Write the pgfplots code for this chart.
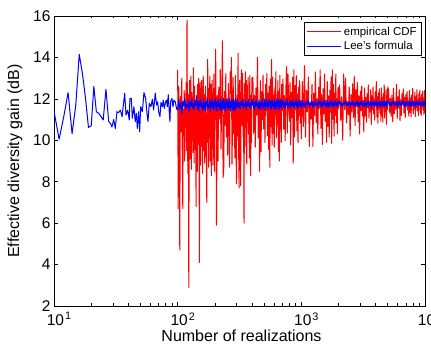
\documentclass[border=0pt]{standalone}
\usepackage{pgfplots}
\pgfplotsset{compat=1.18}
\usepackage{fontspec}
\setmainfont{Liberation Sans}
\begin{document}
\begin{tikzpicture}
\begin{axis}[
  scale only axis, width=371pt, height=290pt,
  xmode=log, log basis x=10, xmin=10, xmax=10000, ymin=2, ymax=16,
  ytick={2,4,6,8,10,12,14,16},
  xtick={10,100,1000,10000},
  xticklabels={10\rlap{\kern1pt\textsuperscript{1}},10\rlap{\kern1pt\textsuperscript{2}},10\rlap{\kern1pt\textsuperscript{3}},10\rlap{\kern1pt\textsuperscript{4}}},
  minor xtick={20,30,40,50,60,70,80,90,200,300,400,500,600,700,800,900,2000,3000,4000,5000,6000,7000,8000,9000},
  /pgf/number format/assume math mode=true,
  tick label style={font=\fontsize{15.5}{18}\selectfont, black},
  xticklabel style={yshift=-3pt, xshift=1.5pt},
  axis line style={line width=0.8pt, black},
  every tick/.style={black, line width=0.6pt},
  major tick length=4pt, minor tick length=2.5pt,
  xlabel={Number of realizations},
  ylabel={Effective diversity gain (dB)},
  every axis y label/.style={at={(axis description cs:-0.105,0.5)}, rotate=90, anchor=center, font=\fontsize{16}{19}\selectfont},
  every axis x label/.style={at={(axis description cs:0.5,0)}, anchor=center, yshift=-30pt, xshift=2pt, font=\fontsize{16}{19}\selectfont},
  legend style={at={(axis description cs:1,1)}, anchor=north east, xshift=-3pt, yshift=-6pt,
    font=\fontsize{11.5}{13}\selectfont, draw=black, line width=0.6pt, inner xsep=3pt, inner ysep=2.5pt,
    row sep=0.5pt, cells={anchor=west}},
  legend image code/.code={\draw[#1] (0pt,0pt) -- (34pt,0pt);},
]
\addplot[red, line width=1pt, line join=round] coordinates {
(100,13.4)(101,6.7)(102,12.6)(103,9.8)(104,4.7)(105,12.1)(106,10.4)(107,11.8)(108,13.0)(109,9.2)
(110,6.7)(111,11.5)(112,10.2)(113,12.4)(114,9.0)(115,11.9)(116,10.6)(117,12.8)(118,9.5)(119,15.8)
(120,10.1)(121,8.4)(122,12.2)(123,2.9)(124,11.3)(125,12.9)(126,9.1)(127,11.0)(128,13.1)(129,8.6)
(130,12.3)(131,10.0)(132,11.6)(133,9.4)(134,13.5)(135,10.8)(136,8.9)(137,12.6)(138,10.3)(139,11.9)
(140,9.6)(141,6.8)(142,12.0)(143,10.9)(144,8.5)(145,12.7)(146,9.8)(147,11.4)(148,13.0)(149,9.3)
(150,4.1)(151,11.2)(152,12.8)(153,8.8)(154,11.7)(155,10.2)(156,12.9)(157,9.7)(158,11.1)(159,8.4)
(160,12.4)(161,13.1)(162,9.5)(163,10.7)(164,12.2)(165,8.9)(166,11.8)(167,10.4)(168,12.6)(169,9.2)
(170,11.3)(171,8.6)(172,7.0)(173,12.1)(174,10.5)(175,13.9)(176,9.9)(177,11.6)(178,8.7)(179,12.5)
(180,10.1)(181,11.9)(182,13.1)(183,9.0)(184,11.2)(185,10.6)(186,12.7)(187,8.3)(188,11.5)(189,9.6)
(190,12.9)(191,10.3)(192,11.8)(193,8.8)(194,12.3)(195,9.9)(196,13.2)(197,10.7)(198,8.5)(199,12.0)
(200,11.0)
(203,14.4)(206,5.9)(209,12.17)(212,8.99)(215,12.55)(218,11.02)(221,13.41)(224,9.57)(227,11.79)(230,14.8)
(233,8.2)(236,8.7)(239,12.36)(242,10.73)(245,13.22)(248,10.15)(251,11.98)(254,9.28)(257,12.74)(260,11.31)
(263,8.7)(266,13.31)(269,12.27)(272,14.0)(275,8.85)(278,10.88)(281,13.03)(284,10.3)(287,11.89)(290,9.14)
(293,13.12)(296,9.86)(299,7.9)(302,12.17)(305,10.2)(308,14.2)(311,9.6)(314,7.7)(317,12.9)(320,10.44)
(323,7.8)(326,12.93)(329,13.4)(332,10.73)(335,13.22)(338,10.15)(341,11.98)(344,6.0)(347,12.74)(350,11.31)
(353,13.31)(356,9.72)(359,12.9)(362,8.85)(365,12.65)(368,10.88)(371,13.03)(374,10.3)(377,11.89)(380,9.14)
(383,13.12)(386,9.86)(389,8.3)(392,12.17)(395,9.9)(398,13.0)
(406,13.05)(412,10.33)(418,12.18)(424,9.67)(430,12.53)(436,11.21)(442,14.0)(448,10.11)(454,11.83)(460,8.5)
(466,12.88)(472,9.45)(478,12.35)(484,10.99)(490,13.14)(496,10.55)(502,12.0)(508,9.89)(514,12.7)(520,11.43)
(526,13.23)(532,10.22)(538,12.26)(544,9.56)(550,12.61)(556,8.7)(562,12.96)(568,10.66)(574,13.9)(580,9.78)
(586,13.05)(592,10.33)(598,12.18)(604,9.67)(610,12.53)(616,11.21)(622,13.31)(628,10.11)(634,11.83)(640,10.77)
(646,12.88)(652,9.45)(658,12.35)(664,9.0)(670,13.14)(676,10.55)(682,12.0)(688,9.89)(694,12.7)(700,11.43)
(710,12.96)(720,10.54)(730,12.16)(740,9.97)(750,12.48)(760,13.55)(770,10.35)(780,13.2)(790,11.84)(800,10.92)
(810,12.8)(820,9.78)(830,12.32)(840,11.11)(850,13.04)(860,8.9)(870,13.4)(880,10.16)(890,12.64)(900,11.49)
(910,13.12)(920,10.45)(930,12.24)(940,9.88)(950,12.56)(960,11.21)(970,12.88)(980,10.83)(990,11.92)(1000,10.07)
(1020,12.84)(1040,10.67)(1060,13.6)(1080,10.15)(1100,12.42)(1120,11.37)(1140,13.05)(1160,9.7)(1180,11.86)(1200,11.02)
(1220,12.7)(1240,9.7)(1260,12.28)(1280,11.2)(1300,13.3)(1320,10.85)(1340,12.0)(1360,10.32)(1380,12.56)(1400,11.55)
(1420,13.4)(1440,10.58)(1460,12.21)(1480,9.8)(1500,12.49)(1520,11.28)(1540,13.2)(1560,10.93)(1580,11.93)(1600,9.9)
(1620,12.84)(1640,10.67)(1660,12.14)(1680,10.15)(1700,12.42)(1720,11.37)(1740,13.05)(1760,9.85)(1780,13.4)(1800,11.02)
(1820,12.7)(1840,10.2)(1860,12.28)(1880,11.2)(1900,13.2)(1920,10.85)(1940,12.0)(1960,10.32)(1980,12.56)(2000,11.55)
(2040,12.67)(2080,10.97)(2120,12.1)(2160,10.0)(2200,13.2)(2240,11.49)(2280,13.0)(2320,10.84)(2360,11.87)(2400,11.23)
(2440,12.56)(2480,10.2)(2520,12.21)(2560,11.36)(2600,12.73)(2640,11.1)(2680,13.07)(2720,10.71)(2760,12.44)(2800,11.62)
(2840,12.79)(2880,10.9)(2920,12.15)(2960,10.3)(3000,12.38)(3040,11.43)(3080,12.61)(3120,11.17)(3160,11.92)(3200,10.4)
(3240,12.53)(3280,11.17)(3320,12.06)(3360,10.87)(3400,12.25)(3440,11.57)(3480,12.67)(3520,11.07)(3560,11.87)(3600,11.37)
(3640,12.44)(3680,10.77)(3720,12.15)(3760,11.47)(3800,12.58)(3840,11.27)(3880,11.96)(3920,10.97)(3960,12.34)(4000,11.67)
(4040,12.83)(4080,11.12)(4120,12.1)(4160,10.82)(4200,12.29)(4240,11.52)(4280,12.48)(4320,11.32)(4360,11.91)(4400,10.92)
(4440,12.53)(4480,11.17)(4520,12.06)(4560,10.87)(4600,12.25)(4640,11.57)(4680,12.67)(4720,11.07)(4760,11.87)(4800,11.37)
(4840,12.44)(4880,10.77)(4920,12.15)(4960,11.47)(5000,12.58)
(5080,12.4)(5160,11.35)(5240,12.03)(5320,11.13)(5400,12.18)(5480,10.9)(5560,12.51)(5640,11.28)(5720,11.88)(5800,11.5)
(5880,12.7)(5960,11.05)(6040,12.1)(6120,11.58)(6200,12.44)(6280,10.95)(6360,11.95)(6440,11.2)(6520,12.25)(6600,11.73)
(6680,12.48)(6760,11.31)(6840,12.06)(6920,11.09)(7000,12.21)(7080,11.61)(7160,12.36)(7240,11.46)(7320,11.91)(7400,11.16)
(7480,12.4)(7560,11.35)(7640,12.03)(7720,11.13)(7800,12.18)(7880,11.65)(7960,12.51)(8040,11.28)(8120,11.88)(8200,11.5)
(8280,12.33)(8360,11.15)(8440,12.1)(8520,11.58)(8600,12.44)(8680,11.43)(8760,11.95)(8840,11.2)(8920,12.25)(9000,11.73)
(9080,12.42)(9160,11.31)(9240,12.06)(9320,11.2)(9400,12.21)(9480,11.61)(9560,12.36)(9640,11.46)(9720,11.91)(9800,11.25)
(9880,12.4)(9960,11.35)(10000,12.0)
};
\addlegendentry{empirical CDF}
\addplot[blue, line width=1pt, line join=round] coordinates {
(10,11.41)(11,10.05)(12,11.15)(13,12.3)(14,10.32)(15,11.7)(16,14.15)(17,13.2)(18,12.0)(19,10.62)
(20,10.7)(21,12.6)(22,11.38)(23,11.3)(24,11.15)(25,10.98)(26.3,12.46)(27.7,10.9)(28.7,10.8)(29.4,10.64)
(30.4,11.0)(31.3,10.57)(32.3,11.38)(33.3,11.33)(34.4,11.46)(35.5,11.14)(37.3,12.27)(38.2,11.22)(39.4,11.46)(40.6,10.98)
(41.1,12.02)(42.2,12.02)(43.0,11.06)(44.3,11.62)(45.4,10.9)(46.3,11.3)(47.2,10.57)(48.3,11.38)(49.3,10.41)(50.2,11.62)
(51.8,11.38)(53.4,12.3)(55.1,12.02)(56.5,11.3)(57.5,10.9)(59.0,11.78)(60.8,11.62)(62.4,11.98)(63.9,11.46)(65.9,12.27)
(67.6,11.7)(68.9,11.86)(70.2,11.38)(71.9,11.14)(73.3,11.83)(75.1,11.62)(76.5,11.94)(77.9,11.54)(79.9,11.86)(81.4,11.94)
(82.4,11.62)(84.0,12.2)(85.5,11.38)(86.6,10.9)(87.7,11.86)(89.9,12.02)(91.6,11.62)(93.3,11.94)(95.7,11.86)(98.1,11.5)
(100,11.46)
(102,11.98)(104,11.52)(106,11.82)(108,11.25)(110,11.89)(112,11.65)(114,12.03)(116,11.49)(118,11.75)(120,11.59)
(122,11.95)(124,11.39)(126,11.85)(128,11.62)(130,12.0)(132,11.56)(134,11.79)(136,11.46)(138,11.92)(140,11.69)
(142,12.15)(144,11.51)(146,11.84)(148,11.41)(150,11.9)(152,11.64)(154,11.97)(156,11.57)(158,11.77)(160,11.44)
(162,11.98)(164,11.52)(166,11.82)(168,11.42)(170,11.89)(172,11.65)(174,12.03)(176,11.49)(178,11.75)(180,11.59)
(182,11.95)(184,11.39)(186,11.85)(188,11.62)(190,12.0)(192,11.56)(194,11.79)(196,11.46)(198,11.92)(200,11.69)
(202,12.02)(204,11.51)(206,11.84)(208,11.41)(210,11.9)(212,11.64)(214,11.97)(216,11.57)(218,11.77)(220,11.44)
(222,11.98)(224,11.52)(226,11.82)(228,11.42)(230,11.89)(232,11.65)(234,12.03)(236,11.49)(238,11.75)(240,11.59)
(242,11.95)(244,11.39)(246,11.85)(248,11.62)(250,12.0)(252,11.56)(254,11.79)(256,11.46)(258,11.92)(260,11.69)
(262,12.02)(264,11.51)(266,11.84)(268,11.41)(270,11.9)(272,11.64)(274,11.97)(276,11.57)(278,11.77)(280,11.44)
(282,11.98)(284,11.52)(286,11.82)(288,11.42)(290,11.89)(292,11.65)(294,12.03)(296,11.49)(298,11.75)(300,11.59)
(305,11.96)(310,11.57)(315,11.82)(320,11.49)(325,11.88)(330,11.68)(335,12.01)(340,11.54)(345,11.77)(350,11.63)
(355,11.94)(360,11.46)(365,11.85)(370,11.66)(375,11.98)(380,11.6)(385,11.8)(390,11.52)(395,11.91)(400,11.71)
(405,11.99)(410,11.56)(415,11.84)(420,11.47)(425,11.89)(430,11.67)(435,11.95)(440,11.61)(445,11.78)(450,11.5)
(455,11.96)(460,11.57)(465,11.82)(470,11.49)(475,11.88)(480,11.68)(485,12.01)(490,11.54)(495,11.77)(500,11.63)
(505,11.94)(510,11.46)(515,11.85)(520,11.66)(525,11.98)(530,11.6)(535,11.8)(540,11.52)(545,11.91)(550,11.71)
(555,11.99)(560,11.56)(565,11.84)(570,11.47)(575,11.89)(580,11.67)(585,11.95)(590,11.61)(595,11.78)(600,11.5)
(605,11.96)(610,11.57)(615,11.82)(620,11.49)(625,11.88)(630,11.68)(635,12.01)(640,11.54)(645,11.77)(650,11.63)
(655,11.94)(660,11.46)(665,11.85)(670,11.66)(675,11.98)(680,11.6)(685,11.8)(690,11.52)(695,11.91)(700,11.71)
(710,11.94)(720,11.61)(730,11.82)(740,11.53)(750,11.87)(760,11.7)(770,11.98)(780,11.58)(790,11.77)(800,11.65)
(810,11.92)(820,11.51)(830,11.85)(840,11.68)(850,11.95)(860,11.63)(870,11.8)(880,11.56)(890,11.89)(900,11.73)
(910,11.97)(920,11.59)(930,11.83)(940,11.52)(950,11.88)(960,11.69)(970,11.93)(980,11.64)(990,11.79)(1000,11.55)
(1020,11.92)(1040,11.64)(1060,11.82)(1080,11.58)(1100,11.86)(1120,11.72)(1140,11.95)(1160,11.62)(1180,11.78)(1200,11.68)
(1220,11.9)(1240,11.56)(1260,11.84)(1280,11.7)(1300,11.93)(1320,11.66)(1340,11.8)(1360,11.6)(1380,11.88)(1400,11.74)
(1420,11.94)(1440,11.63)(1460,11.83)(1480,11.57)(1500,11.87)(1520,11.71)(1540,11.91)(1560,11.67)(1580,11.79)(1600,11.59)
(1620,11.92)(1640,11.64)(1660,11.82)(1680,11.58)(1700,11.86)(1720,11.72)(1740,11.95)(1760,11.62)(1780,11.78)(1800,11.68)
(1820,11.9)(1840,11.56)(1860,11.84)(1880,11.7)(1900,11.93)(1920,11.66)(1940,11.8)(1960,11.6)(1980,11.88)(2000,11.74)
(2040,11.9)(2080,11.66)(2120,11.81)(2160,11.61)(2200,11.85)(2240,11.73)(2280,11.92)(2320,11.64)(2360,11.78)(2400,11.69)
(2440,11.88)(2480,11.59)(2520,11.83)(2560,11.71)(2600,11.9)(2640,11.68)(2680,11.79)(2720,11.62)(2760,11.86)(2800,11.74)
(2840,11.91)(2880,11.65)(2920,11.82)(2960,11.6)(3000,11.85)(3040,11.72)(3080,11.89)(3120,11.68)(3160,11.79)(3200,11.61)
(3240,11.9)(3280,11.66)(3320,11.81)(3360,11.61)(3400,11.85)(3440,11.73)(3480,11.92)(3520,11.64)(3560,11.78)(3600,11.69)
(3640,11.88)(3680,11.59)(3720,11.83)(3760,11.71)(3800,11.9)(3840,11.68)(3880,11.79)(3920,11.62)(3960,11.86)(4000,11.74)
(4040,11.91)(4080,11.65)(4120,11.82)(4160,11.6)(4200,11.85)(4240,11.72)(4280,11.89)(4320,11.68)(4360,11.79)(4400,11.61)
(4440,11.9)(4480,11.66)(4520,11.81)(4560,11.61)(4600,11.85)(4640,11.73)(4680,11.92)(4720,11.64)(4760,11.78)(4800,11.69)
(4840,11.88)(4880,11.59)(4920,11.83)(4960,11.71)(5000,11.9)
(5080,11.89)(5160,11.68)(5240,11.82)(5320,11.64)(5400,11.85)(5480,11.74)(5560,11.91)(5640,11.67)(5720,11.79)(5800,11.71)
(5880,11.88)(5960,11.62)(6040,11.83)(6120,11.73)(6200,11.9)(6280,11.7)(6360,11.8)(6440,11.65)(6520,11.86)(6600,11.76)
(6680,11.91)(6760,11.67)(6840,11.82)(6920,11.63)(7000,11.85)(7080,11.73)(7160,11.88)(7240,11.7)(7320,11.79)(7400,11.64)
(7480,11.89)(7560,11.68)(7640,11.82)(7720,11.64)(7800,11.85)(7880,11.74)(7960,11.91)(8040,11.67)(8120,11.79)(8200,11.71)
(8280,11.88)(8360,11.62)(8440,11.83)(8520,11.73)(8600,11.9)(8680,11.7)(8760,11.8)(8840,11.65)(8920,11.86)(9000,11.76)
(9080,11.91)(9160,11.67)(9240,11.82)(9320,11.63)(9400,11.85)(9480,11.73)(9560,11.88)(9640,11.7)(9720,11.79)(9800,11.64)
(9880,11.89)(9960,11.68)(10000,11.78)
};
\addlegendentry{Lee's formula}
\end{axis}
\pgfresetboundingbox
\path[use as bounding box] (-54pt,-38pt) rectangle (377pt,306pt);
\end{tikzpicture}
\end{document}
